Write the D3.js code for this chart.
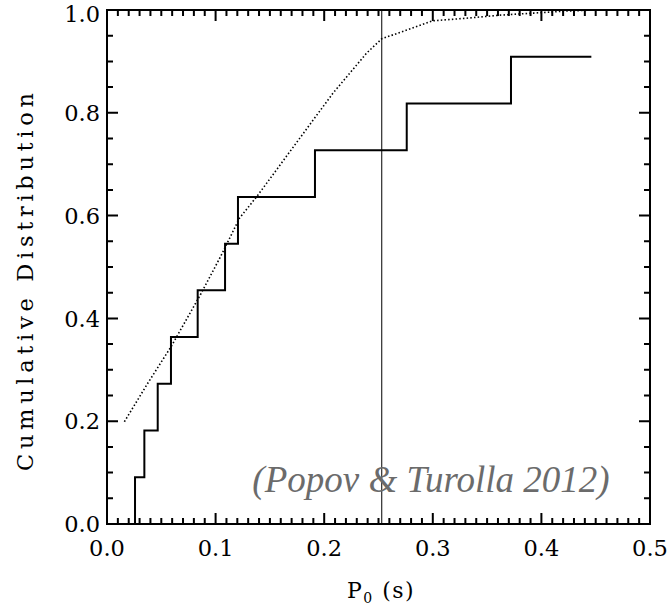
<!DOCTYPE html>
<html>
<head>
<meta charset="utf-8">
<script src="https://cdn.jsdelivr.net/npm/d3@7"></script>
<style>
  html, body { margin: 0; padding: 0; background: #fff; }
  svg { display: block; }
</style>
</head>
<body>
<svg id="chart" width="672" height="607"></svg>
<script>
// Observed spin periods P0 (s) where the empirical CDF steps up
const stepPeriods = [0.0258, 0.0344, 0.0467, 0.0589, 0.0835, 0.1087, 0.1206, 0.1915, 0.276, 0.372];
// Cumulative fraction reached at each step (k / 11)
const stepLevels = [1/11, 2/11, 3/11, 4/11, 5/11, 6/11, 7/11, 8/11, 9/11, 10/11];
const stepEnd = 0.446;

// Model cumulative distribution (dotted curve)
const modelP = [0.016, 0.037, 0.059, 0.086, 0.105, 0.122, 0.139, 0.178, 0.208, 0.239, 0.253, 0.276, 0.300, 0.331, 0.362, 0.393, 0.423, 0.45];
const modelCdf = [0.199, 0.272, 0.345, 0.446, 0.522, 0.595, 0.640, 0.752, 0.838, 0.916, 0.944, 0.961, 0.979, 0.984, 0.990, 0.994, 0.998, 1.0];

// Vertical reference period
const refPeriod = 0.253;

const xMajor = [0.0, 0.1, 0.2, 0.3, 0.4, 0.5];
const yMajor = [0.0, 0.2, 0.4, 0.6, 0.8, 1.0];

const svg = d3.select("#chart");
const L = 107, R = 650, T = 10, B = 524;

const x = d3.scaleLinear().domain([0, 0.5]).range([L, R]);
const y = d3.scaleLinear().domain([0, 1]).range([B, T]);

const xMinor = d3.range(0, 51).map(i => i / 100);
const yMinor = d3.range(0, 21).map(i => i / 20);
const isMajor = (v, step) => Math.abs(v / step - Math.round(v / step)) < 1e-6;

const fmt = d3.format(".1f");

// Plot frame
svg.append("rect")
  .attr("x", L).attr("y", T).attr("width", R - L).attr("height", B - T)
  .attr("fill", "none").attr("stroke", "#000").attr("stroke-width", 2);

// Inward ticks on all four edges, built as one path
const tickPath = d3.path();
xMinor.forEach(v => {
  const len = isMajor(v, 0.1) ? 11 : 6;
  const px = x(v);
  tickPath.moveTo(px, B); tickPath.lineTo(px, B - len);
  tickPath.moveTo(px, T); tickPath.lineTo(px, T + len);
});
yMinor.forEach(v => {
  const len = isMajor(v, 0.2) ? 11 : 6;
  const py = y(v);
  tickPath.moveTo(L, py); tickPath.lineTo(L + len, py);
  tickPath.moveTo(R, py); tickPath.lineTo(R - len, py);
});
svg.append("path")
  .attr("d", tickPath.toString())
  .attr("fill", "none")
  .attr("stroke", "#000")
  .attr("stroke-width", 2);

// Tick labels
svg.append("g").selectAll("text").data(xMajor).join("text")
  .attr("x", d => x(d)).attr("y", 556)
  .attr("text-anchor", "middle")
  .attr("font-family", "DejaVu Serif, serif")
  .attr("font-size", 22.5)
  .attr("fill", "#000")
  .text(fmt);
svg.append("g").selectAll("text").data(yMajor).join("text")
  .attr("x", 100).attr("y", d => Math.max(y(d), 14)).attr("dy", "0.36em")
  .attr("text-anchor", "end")
  .attr("font-family", "DejaVu Serif, serif")
  .attr("font-size", 22.5)
  .attr("fill", "#000")
  .text(fmt);

// Model CDF, dotted
const modelData = modelP.map((p, i) => [p, modelCdf[i]]);
svg.append("path")
  .datum(modelData)
  .attr("fill", "none")
  .attr("stroke", "#000")
  .attr("stroke-width", 1.6)
  .attr("stroke-dasharray", "1.5 2.2")
  .attr("d", d3.line().x(d => x(d[0])).y(d => y(d[1])));

// Empirical CDF, step line
const stepData = [[stepPeriods[0], 0]];
stepPeriods.forEach((p, i) => stepData.push([p, stepLevels[i]]));
stepData.push([stepEnd, stepLevels[stepLevels.length - 1]]);
svg.append("path")
  .datum(stepData)
  .attr("fill", "none")
  .attr("stroke", "#000")
  .attr("stroke-width", 2)
  .attr("d", d3.line().curve(d3.curveStepAfter).x(d => x(d[0])).y(d => y(d[1])));

// Vertical reference line
svg.append("line")
  .attr("x1", x(refPeriod)).attr("x2", x(refPeriod))
  .attr("y1", y(0)).attr("y2", y(1))
  .attr("stroke", "#000").attr("stroke-width", 1);

// Citation
svg.append("text")
  .attr("x", 431).attr("y", 492)
  .attr("text-anchor", "middle")
  .attr("font-family", "Liberation Serif, serif")
  .attr("font-style", "italic")
  .attr("font-size", 37)
  .attr("fill", "#6b6b6b")
  .text("(Popov & Turolla 2012)");

// Axis titles
const xt = svg.append("text")
  .attr("x", 381).attr("y", 598)
  .attr("text-anchor", "middle")
  .attr("font-family", "DejaVu Serif, serif")
  .attr("font-size", 22)
  .attr("letter-spacing", 1.5)
  .attr("fill", "#000");
xt.append("tspan").text("P");
xt.append("tspan").attr("font-size", 14).attr("dy", 5).text("0");
xt.append("tspan").attr("dy", -5).text(" (s)");

svg.append("text")
  .attr("transform", "translate(33,282) rotate(-90)")
  .attr("text-anchor", "middle")
  .attr("font-family", "DejaVu Serif, serif")
  .attr("font-size", 22.5)
  .attr("textLength", 378)
  .attr("lengthAdjust", "spacing")
  .attr("fill", "#000")
  .text("Cumulative Distribution");
</script>
</body>
</html>
